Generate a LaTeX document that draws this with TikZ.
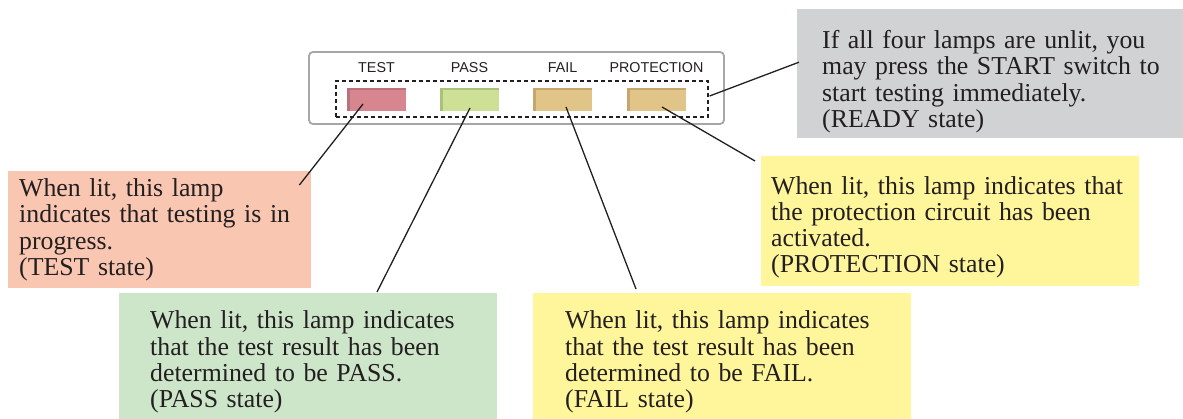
\documentclass[tikz,border=0pt]{standalone}
\usepackage{fontspec}
\usepackage{xcolor}
\usepackage{tikz}
\usetikzlibrary{calc}
\setmainfont{Liberation Serif}
\newfontfamily\lampfont{Liberation Sans}
\definecolor{texte}{HTML}{231F20}
\definecolor{rose}{HTML}{F9C6B2}
\definecolor{vert}{HTML}{CDE5C9}
\definecolor{jaune}{HTML}{FFF59B}
\definecolor{gris}{HTML}{D1D2D4}
\definecolor{bordpanneau}{HTML}{A6A6A6}
\definecolor{lamperose}{HTML}{D7858F}
\definecolor{bordrose}{HTML}{B9717D}
\definecolor{lampevert}{HTML}{CDE095}
\definecolor{bordvert}{HTML}{A9C27A}
\definecolor{lampeor}{HTML}{E1C488}
\definecolor{bordor}{HTML}{C7A66D}
\tikzset{
  panneau/.style={rectangle, rounded corners=4pt, draw=bordpanneau, fill=white,
    line width=1.8pt, inner sep=0pt},
  lampe/.style 2 args={rectangle, inner sep=0pt, minimum width=59pt,
    minimum height=23pt, fill=#1,
    path picture={\fill[#2] ($(path picture bounding box.north west)+(2.5,2.5)$)
      rectangle (path picture bounding box.south east);}},
  etiquette/.style={font=\lampfont\fontsize{14.3}{16}\selectfont, text=texte,
    inner sep=0pt},
  groupe/.style={rectangle, draw=texte, dash pattern=on 4pt off 3pt,
    line width=1.2pt, inner sep=0pt},
  note/.style={rectangle, anchor=north west, align=left, inner ysep=0pt,
    font=\fontsize{25.8}{26.3}\selectfont, text=texte},
  lien/.style={line width=1.3pt, color=texte}
}
\begin{document}
\begin{tikzpicture}[x=1pt, y=-1pt]
    \clip (0,0) rectangle (1183,419);

    % Panneau des lampes
    \node[panneau, minimum width=415pt, minimum height=72pt] (pan) at (516.5,88) {};
    \foreach \n/\x/\a/\b/\t in {test/376.5/bordrose/lamperose/TEST,
        pass/469.5/bordvert/lampevert/PASS,
        fail/562.5/bordor/lampeor/FAIL,
        prot/656.5/bordor/lampeor/PROTECTION} {
      \node[lampe={\a}{\b}] (l\n) at (\x,99.5) {};
      \node[etiquette] (e\n) at (\x,68) {\t};
    }
    \node[groupe, minimum width=372pt, minimum height=36pt] (cadre) at (522,99) {};

    % Notes
    \node[note, fill=rose, minimum width=303pt, minimum height=117pt,
      inner xsep=11pt, text width=281pt] (ntest) at (8,171)
      {When lit, this lamp\\indicates that testing is in\\progress.\\(TEST state)};
    \node[note, fill=vert, minimum width=378pt, minimum height=138pt,
      inner xsep=31pt, text width=316pt] (npass) at (119,293)
      {When lit, this lamp indicates\\that the test result has been\\determined to be PASS.\\(PASS state)};
    \node[note, fill=jaune, minimum width=378pt, minimum height=138pt,
      inner xsep=32pt, text width=314pt] (nfail) at (533,293)
      {When lit, this lamp indicates\\that the test result has been\\determined to be FAIL.\\(FAIL state)};
    \node[note, fill=jaune, minimum width=378pt, minimum height=130pt,
      inner xsep=10pt, text width=358pt] (nprot) at (761,156)
      {\rule{0pt}{30pt}When lit, this lamp indicates that\\the protection circuit has been\\activated.\\(PROTECTION state)};
    \node[note, fill=gris, minimum width=410pt, minimum height=129pt,
      inner xsep=25pt, text width=360pt] (nready) at (797,9)
      {\rule{0pt}{34pt}If all four lamps are unlit, you\\may press the START switch to\\start testing immediately.\\(READY state)};

    % Traits de rappel
    \draw[lien] ($(ltest.center)+(-13.5,4.5)$) -- ($(ntest.north east)+(-12,14)$);
    \draw[lien] ($(lpass.center)+(0.5,8.5)$) -- ($(npass.north west)+(258,-1)$);
    \draw[lien] ($(lfail.center)+(3.5,7.5)$) -- ($(nfail.north west)+(103,-4)$);
    \draw[lien] ($(lprot.center)+(5.5,7.5)$) -- ($(nprot.north west)+(-6,5)$);
    \draw[lien] ($(nready.west)+(2,-11.5)$) -- ($(cadre.east)+(1,-3)$);
  \end{tikzpicture}
\end{document}
